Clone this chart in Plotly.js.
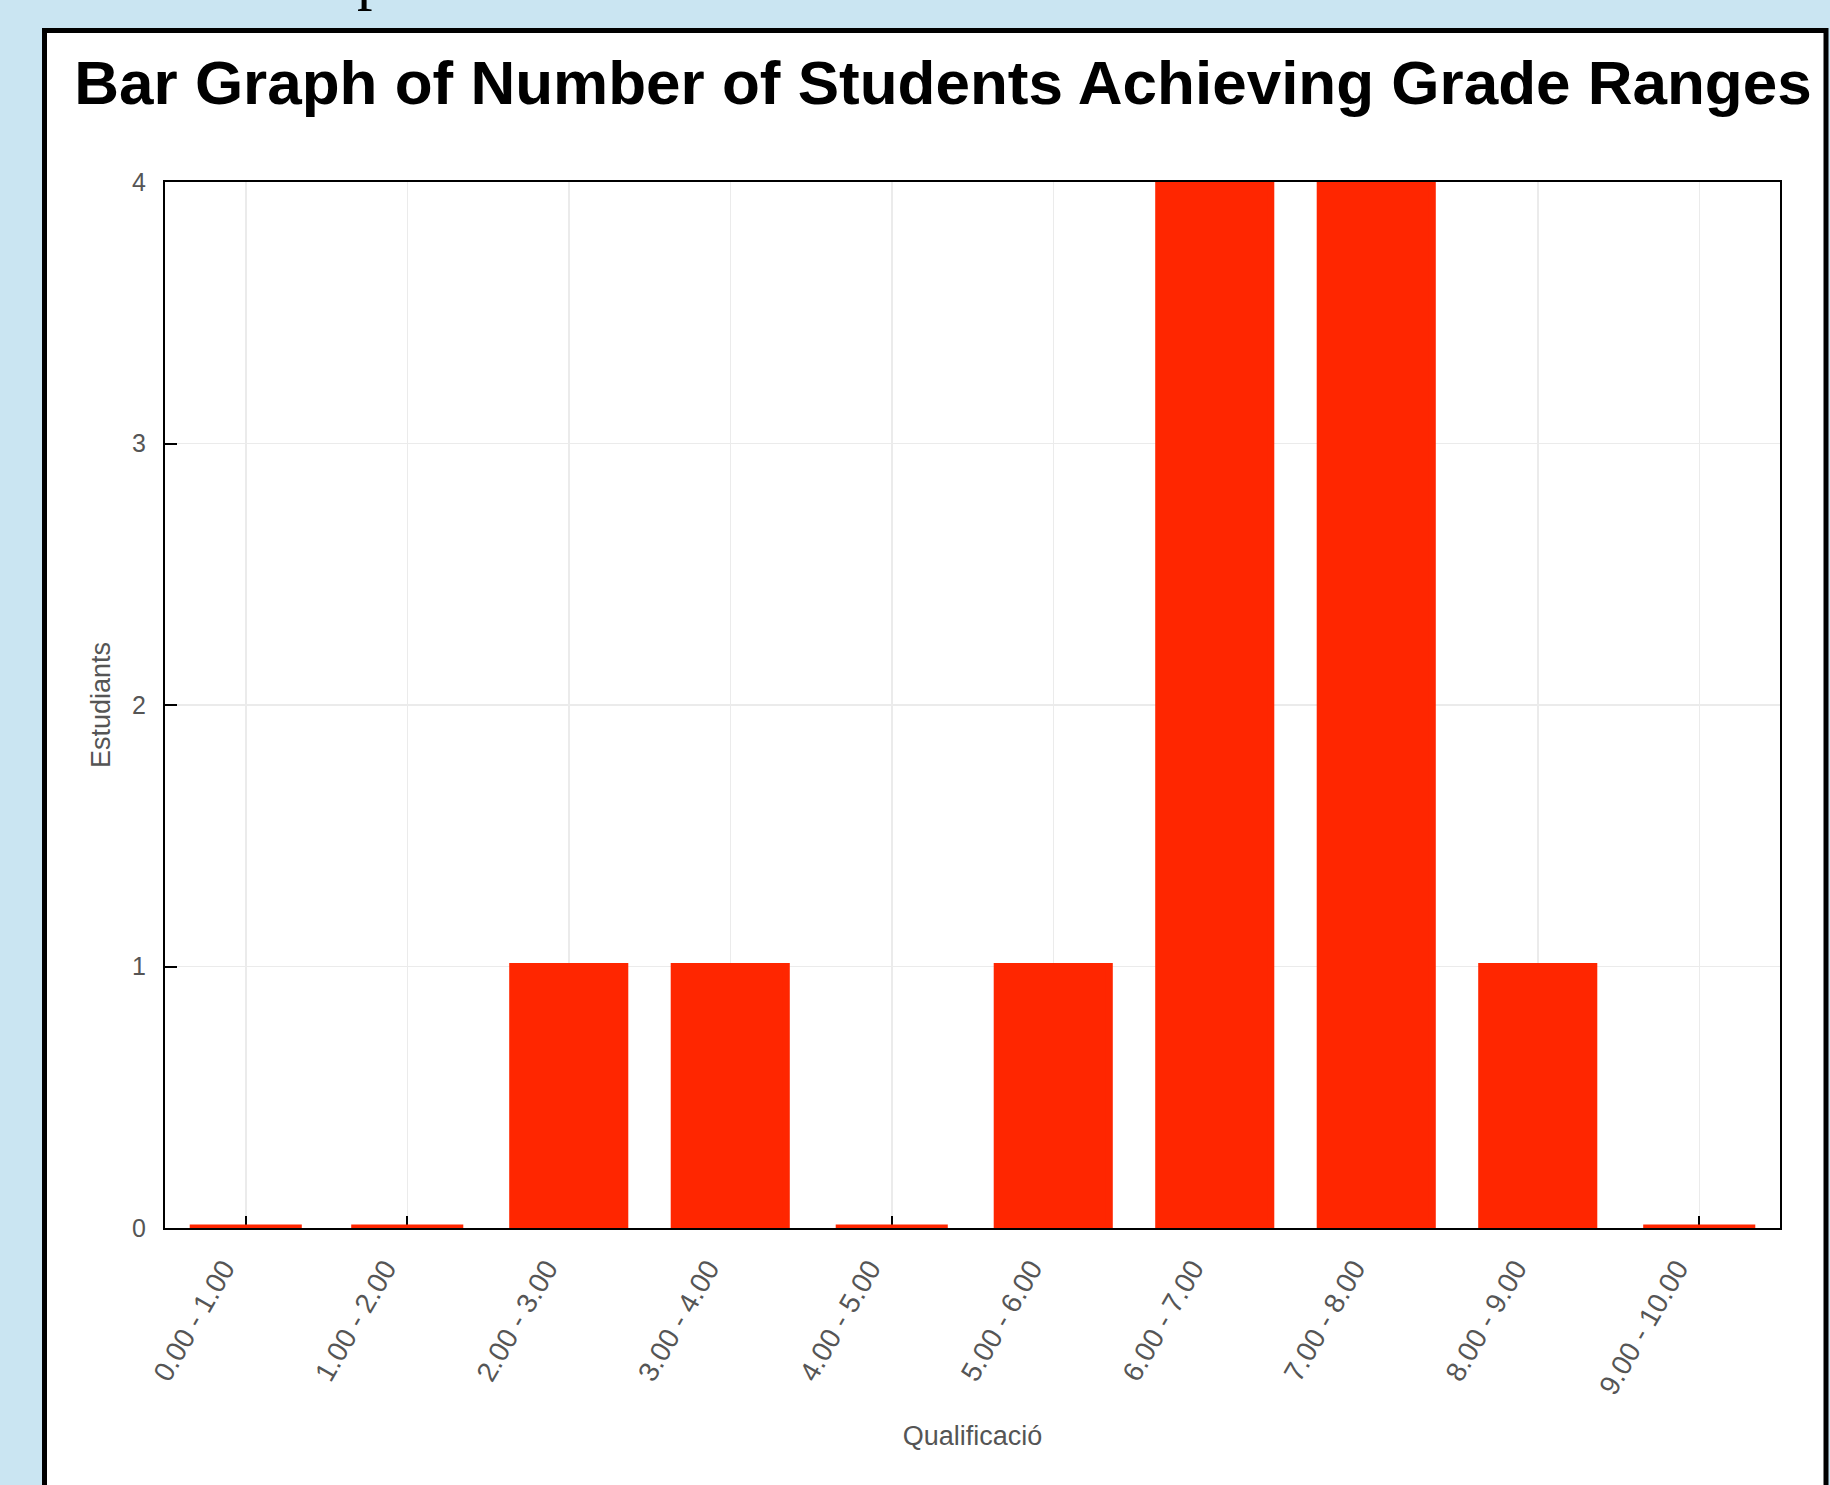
<!DOCTYPE html>
<html>
<head>
<meta charset="utf-8">
<script src="https://cdn.plot.ly/plotly-3.0.1.min.js"></script>
<style>
  html, body { margin: 0; padding: 0; background: rgb(202,229,242); }
  #chart { width: 1830px; height: 1485px; }
</style>
</head>
<body>
<div id="chart"></div>
<script>
// ---- data ----
const gradeRanges = ["0.00 - 1.00", "1.00 - 2.00", "2.00 - 3.00", "3.00 - 4.00", "4.00 - 5.00",
                     "5.00 - 6.00", "6.00 - 7.00", "7.00 - 8.00", "8.00 - 9.00", "9.00 - 10.00"];
const studentCounts = [0, 0, 1, 1, 0, 1, 4, 4, 1, 0];
const yTickValues = [0, 1, 2, 3, 4];
const titleText = "Bar Graph of Number of Students Achieving Grade Ranges";
const xTitleText = "Qualificació";
const yTitleText = "Estudiants";
const headingFragment = "p";

// ---- layout geometry ----
const W = 1830, H = 1485;
const M = { l: 165, r: 50, t: 182, b: 257 };
const plotW = W - M.l - M.r, plotH = H - M.t - M.b;
const px = x => (x - M.l) / plotW;          // page px -> paper x
const py = y => (H - M.b - y) / plotH;      // page px (from top) -> paper y

const gray = "#555555";
const red = "#ff2600";

const trace = {
  type: "bar",
  x: gradeRanges,
  y: studentCounts,
  marker: { color: red, line: { color: red, width: 7 } },
  hoverinfo: "x+y"
};

const layout = {
  width: W, height: H,
  margin: M,
  paper_bgcolor: "rgb(202,229,242)",
  plot_bgcolor: "#ffffff",
  showlegend: false,
  bargap: 0.306,
  font: { family: "Liberation Sans, Arial, sans-serif", color: gray },
  title: {
    text: "<b>" + titleText + "</b>",
    font: { family: "Liberation Sans, Arial, sans-serif", size: 62, color: "#000000" },
    xref: "container", yref: "container",
    x: 943 / W, y: 1 - 82 / H,
    xanchor: "center", yanchor: "middle"
  },
  xaxis: {
    type: "category",
    range: [-0.5, 9.5],
    layer: "below traces",
    tickangle: -60,
    ticks: "inside", ticklen: 12, tickwidth: 2, tickcolor: "#000000",
    showline: true, linecolor: "#000000", linewidth: 2, mirror: true,
    showgrid: true, gridcolor: "#ebebeb", gridwidth: 1.5,
    zeroline: false,
    ticklabelstandoff: 11,
    ticklabelshift: -22,
    tickfont: { size: 28, color: gray },
    title: { text: xTitleText, font: { size: 27, color: gray }, standoff: 27 }
  },
  yaxis: {
    range: [0, 4],
    layer: "below traces",
    tickvals: yTickValues,
    ticktext: yTickValues.map(String),
    ticks: "inside", ticklen: 12, tickwidth: 2, tickcolor: "#000000",
    showline: true, linecolor: "#000000", linewidth: 2, mirror: true,
    showgrid: true, gridcolor: "#ebebeb", gridwidth: 1.5,
    zeroline: false,
    ticklabelstandoff: 12,
    tickfont: { size: 25, color: gray },
    title: { text: yTitleText, font: { size: 27, color: gray }, standoff: 14 }
  },
  shapes: [{
    type: "rect", xref: "paper", yref: "paper", layer: "below",
    x0: px(44.5), x1: px(1826), y0: py(1520), y1: py(30.5),
    fillcolor: "#ffffff",
    line: { color: "#000000", width: 5 }
  }],
  annotations: [{
    text: headingFragment,
    xref: "paper", yref: "paper",
    x: px(372), y: py(-23),
    xanchor: "center", yanchor: "middle",
    showarrow: false,
    font: { family: "Liberation Serif, serif", size: 62, color: "#000000" }
  }]
};

Plotly.newPlot("chart", [trace], layout, { displayModeBar: false, staticPlot: true });
</script>
</body>
</html>
